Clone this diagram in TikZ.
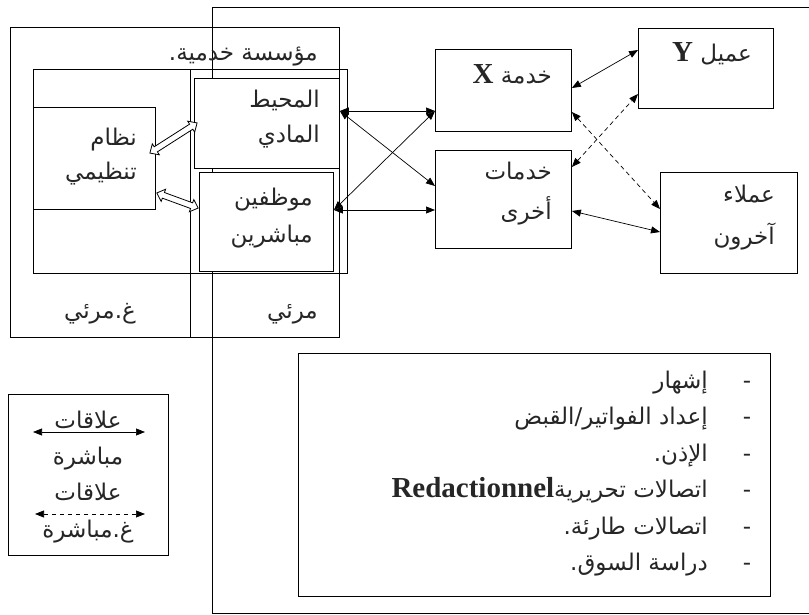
\documentclass[tikz,border=0pt]{standalone}
\usepackage{fontspec}
\setmainfont{Liberation Serif}
\newfontfamily\arfont[Script=Arabic]{DejaVu Sans}
\TeXXeTstate=1
\usetikzlibrary{arrows.meta,calc}

% right-to-left Arabic run
\newcommand\ar[1]{{\arfont\beginR #1\endR}}
% bold Latin word set inside Arabic text
\newcommand\latword[1]{{\fontspec{Liberation Serif}\bfseries\fontsize{29}{32}\selectfont #1}}
% outlined two-headed block arrow: centre, angle, half length
\newcommand\hollowarrow[3]{%
  \begin{scope}[shift={#1}, rotate=#2]
    \draw[line width=0.8pt, fill=white] (-#3,0) -- (-#3+7,6.5) -- (-#3+7,3) -- (#3-7,3)
      -- (#3-7,6.5) -- (#3,0) -- (#3-7,-6.5) -- (#3-7,-3) -- (-#3+7,-3) -- (-#3+7,-6.5) -- cycle;
  \end{scope}}

\tikzset{
  box/.style={draw, line width=0.9pt, anchor=north west, inner sep=0pt},
  txt/.style={font=\arfont\fontsize{23}{27}\selectfont, inner sep=0pt, text=black!85},
  link/.style={line width=0.7pt, {Triangle[length=9pt,width=7pt]}-{Triangle[length=9pt,width=7pt]}},
  vlink/.style={link, dash pattern=on 4.5pt off 3.5pt}
}

\begin{document}
\begin{tikzpicture}[x=1pt,y=-1pt]
\useasboundingbox (0,0) rectangle (809,615);

% the open outer frame running off the page to the right
\draw[line width=0.9pt] (830,7) -- (212,7) -- (212,613) -- (830,613);

% the service organisation
\node[box, minimum width=329pt, minimum height=310pt] (org) at (10,27) {};
\node[box, minimum width=314pt, minimum height=204pt] (inner) at (33,69) {};
\draw[line width=0.9pt] (inner.north west -| 190,0) coordinate (divtop) -- (divtop |- org.south);
\node[box, minimum width=122pt, minimum height=102pt] (nidham) at (33,107) {};
\node[box, minimum width=145pt, minimum height=90pt, fill=white] (phys) at (194,78) {};
\node[box, minimum width=134pt, minimum height=99pt, fill=white] (staff) at (199,172) {};

\node[txt, anchor=base east] (ttl) at (318,61) {\ar{مؤسسة خدمية.}};
\node[txt, anchor=base east] at (137,146) {\ar{نظام}};
\node[txt, anchor=base east] at (137,180) {\ar{تنظيمي}};
\node[txt, anchor=base east] at (320,108) {\ar{المحيط}};
\node[txt, anchor=base east] at (320,143) {\ar{المادي}};
\node[txt, anchor=base east] at (313,205) {\ar{موظفين}};
\node[txt, anchor=base east] at (313,242) {\ar{مباشرين}};
\node[txt, anchor=base] at (100,318) {\ar{غ.مرئي}};
\node[txt, anchor=base east] at (318,318) {\ar{مرئي}};

% services and customers
\node[box, minimum width=136pt, minimum height=82pt] (svcX) at (435,49) {};
\node[box, minimum width=135pt, minimum height=80pt] (cliY) at (638,28) {};
\node[box, minimum width=136pt, minimum height=98pt] (other) at (435,150) {};
\node[box, minimum width=137pt, minimum height=101pt] (clients) at (660,172) {};

\node[txt, anchor=base east] at (552,84) {\ar{خدمة \latword{X}}};
\node[txt, anchor=base east] at (752,62) {\ar{عميل \latword{Y}}};
\node[txt, anchor=base east] at (552,180) {\ar{خدمات}};
\node[txt, anchor=base east] at (552,219) {\ar{أخرى}};
\node[txt, anchor=base east] at (775,202) {\ar{عملاء}};
\node[txt, anchor=base east] at (775,244) {\ar{آخرون}};

% hollow links between the invisible and the visible part
\hollowarrow{(173.5,138)}{32.6}{28}
\hollowarrow{(177.5,200.5)}{-20.1}{22}

% direct and indirect relations
\coordinate (pE) at ($(phys.north east)+(0,33)$);
\coordinate (sE) at ($(staff.north east)+(0,38)$);
\coordinate (xW) at ($(svcX.north west)+(0,62)$);
\coordinate (oW) at ($(other.north west)+(0,36)$);
\coordinate (oW2) at ($(other.north west)+(0,60)$);
\draw[link] (pE) -- (xW);
\draw[link] (pE) -- (oW);
\draw[link] (sE) -- (xW);
\draw[link] (sE) -- (oW2);

\draw[link]  ($(svcX.north east)+(0,39)$) -- ($(cliY.north west)+(0,22)$);
\draw[vlink] ($(other.north east)+(0,17)$) -- ($(cliY.north west)+(0,66)$);
\draw[vlink] ($(svcX.north east)+(0,63)$) -- ($(clients.north west)+(0,37)$);
\draw[link]  ($(other.north east)+(0,61)$) -- ($(clients.north west)+(0,60)$);

% key
\node[box, minimum width=160pt, minimum height=161pt] (key) at (8,394) {};
\node[txt, anchor=base] at (88,428) {\ar{علاقات}};
\node[txt, anchor=base] at (88,464) {\ar{مباشرة}};
\node[txt, anchor=base] at (88,500) {\ar{علاقات}};
\node[txt, anchor=base] at (88,537) {\ar{غ.مباشرة}};
\coordinate (k1a) at (33,432); \coordinate (k1b) at (145,432);
\coordinate (k2a) at (35,514); \coordinate (k2b) at (145,514);
\draw[link] (k1a) -- (k1b);
\draw[vlink] (k2a) -- (k2b);

% list of supporting activities
\node[box, minimum width=472pt, minimum height=243pt] (list) at (298,353) {};
\foreach \t [count=\i from 0] in {إشهار, إعداد الفواتير/القبض, الإذن., {اتصالات تحريرية\beginL\latword{Redactionnel}\endL}, اتصالات طارئة., دراسة السوق.} {
  \node[txt, anchor=base east] (item\i) at (708,388+36.5*\i) {\ar{\t}};
  \node[txt, anchor=base] at (747,388+36.5*\i) {-};
}
\end{tikzpicture}
\end{document}
